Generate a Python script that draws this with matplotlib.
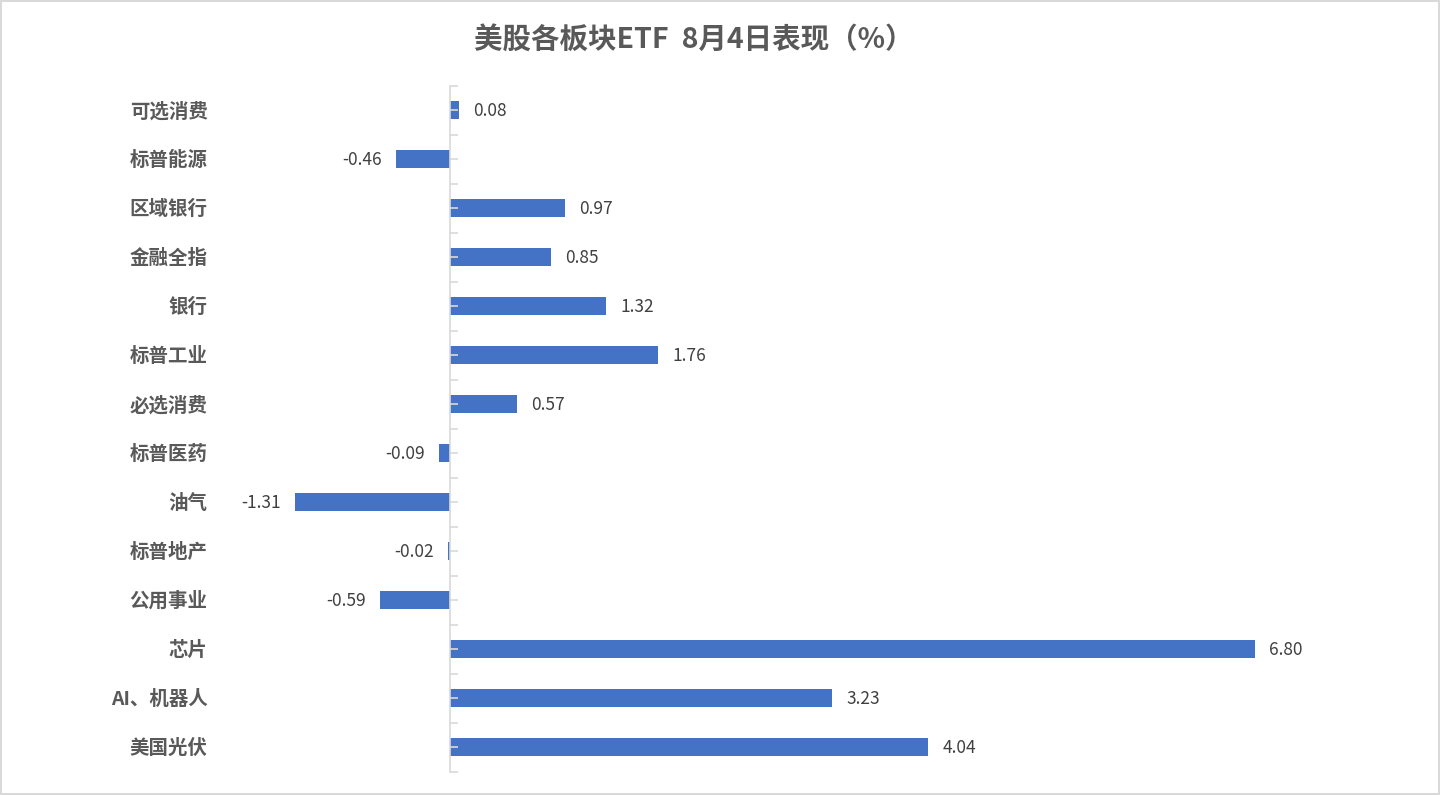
import matplotlib.pyplot as plt
from matplotlib.ticker import FixedLocator
import numpy as np

plt.rcParams['font.family'] = ['Noto Sans CJK SC', 'DejaVu Sans']

# data, top to bottom as in the chart
categories = ['可选消费', '标普能源', '区域银行', '金融全指', '银行', '标普工业', '必选消费',
              '标普医药', '油气', '标普地产', '公用事业', '芯片', 'AI、机器人', '美国光伏']
values = [0.08, -0.46, 0.97, 0.85, 1.32, 1.76, 0.57,
          -0.09, -1.31, -0.02, -0.59, 6.80, 3.23, 4.04]
title = '美股各板块ETF  8月4日表现（%）'

BAR_COLOR = '#4472C4'
AXIS_COLOR = '#d9d9d9'
TEXT_COLOR = '#404040'

W, H = 1440, 795
fig = plt.figure(figsize=(W / 100, H / 100), dpi=100)
fig.patch.set_edgecolor(AXIS_COLOR)
fig.patch.set_linewidth(1.5)

# axes placed so that 0 sits at x=450px and 6.80 at x=1255px
xmin, xmax = -2.0, 7.5
scale = (1255 - 450) / 6.80
left_px = 450 + xmin * scale
right_px = 450 + xmax * scale
top_px, bottom_px = 85.5, 771.5
ax = fig.add_axes([left_px / W, 1 - bottom_px / H,
                   (right_px - left_px) / W, (bottom_px - top_px) / H])

n = len(categories)
y = np.arange(n)
ax.barh(y, values, height=0.35, color=BAR_COLOR, zorder=1)
ax.set_xlim(xmin, xmax)
ax.set_ylim(n - 0.5, -0.5)

for sp in ['top', 'right', 'bottom']:
    ax.spines[sp].set_visible(False)
ax.spines['left'].set_position(('data', 0))
ax.spines['left'].set_color(AXIS_COLOR)
ax.spines['left'].set_linewidth(1.2)
ax.spines['left'].set_zorder(3)
ax.set_xticks([])

# ticks at category boundaries and centres, pointing right
ax.yaxis.set_major_locator(FixedLocator(np.arange(-0.5, n, 1.0)))
ax.yaxis.set_minor_locator(FixedLocator(y))
ax.tick_params(axis='y', which='both', direction='in', length=5.5, width=1.2,
               color=AXIS_COLOR, labelleft=False)

# category labels at left edge
for yi, cat in zip(y, categories):
    ax.text(-0.005, yi + 0.03, cat, transform=ax.get_yaxis_transform(), ha='right',
            va='center', fontsize=14, fontweight='bold', color='#595959')

# value labels
off = 14 / scale
for yi, v in zip(y, values):
    if v >= 0:
        ax.text(v + off, yi + 0.03, f'{v:.2f}', ha='left', va='center', fontsize=12.5,
                color=TEXT_COLOR)
    else:
        ax.text(v - off, yi + 0.03, f'{v:.2f}', ha='right', va='center', fontsize=12.5,
                color=TEXT_COLOR)

fig.text(694 / W, 1 - 40 / H, title, ha='center', va='center', fontsize=20.5,
         fontweight='bold', color='#595959')

fig.savefig('out.png', dpi=100, edgecolor=fig.get_edgecolor())
